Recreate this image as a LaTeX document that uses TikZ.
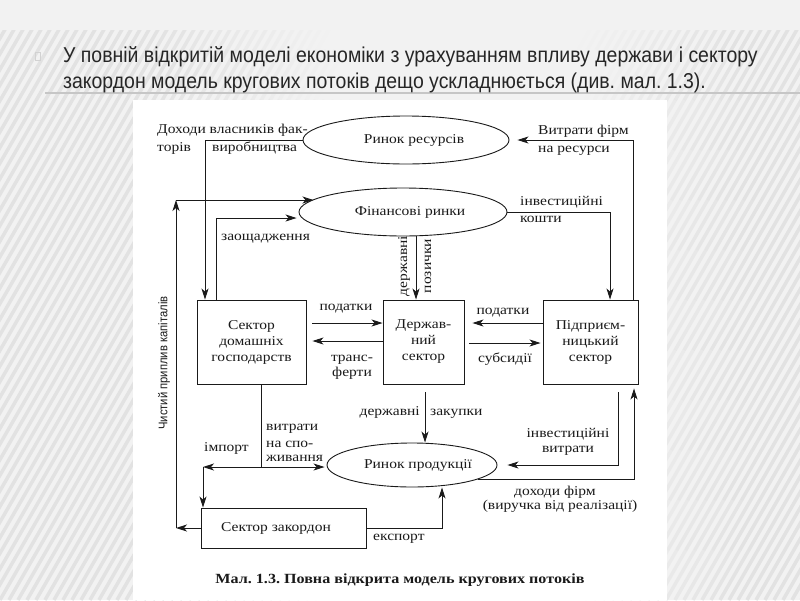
\documentclass[tikz,border=0pt]{standalone}
\usepackage{fontspec}
\setmainfont[FakeStretch=1.15]{Liberation Serif}
\newfontfamily\hdrfont[FakeStretch=0.905]{Liberation Sans}
\newfontfamily\vfont[FakeStretch=0.9]{Liberation Sans}
\usetikzlibrary{arrows.meta,shapes.geometric}
\definecolor{bgc}{HTML}{F2F2F2}
\definecolor{stripec}{HTML}{DADADA}
\definecolor{hdrtxt}{HTML}{262626}
\definecolor{ink}{HTML}{1A1A1A}
\frenchspacing
\begin{document}
\begin{tikzpicture}[x=1pt,y=-1pt,
  lbl/.style={font=\fontsize{13.5}{16}\selectfont, inner sep=0pt, text=ink},
  sbox/.style={draw=ink, line width=0.9pt, rectangle, inner sep=0pt, align=center,
               font=\fontsize{13.5}{16}\selectfont, text=ink},
  oval/.style={draw=ink, line width=0.9pt, ellipse, inner sep=0pt},
  arr/.style={draw=ink, line width=0.9pt, -{Stealth[length=11pt,width=7pt,inset=3pt]}},
  ln/.style={draw=ink, line width=0.9pt}]
\useasboundingbox (0,0) rectangle (800,600);
% background
\fill[bgc] (0,0) rectangle (800,600);
\begin{scope}
  \clip (0,30) rectangle (800,600);
  \foreach \i in {-40,...,90} {
    \foreach \k in {0,...,11} {
      \pgfmathsetmacro{\ya}{600-50*\k}
      \pgfmathsetmacro{\yb}{550-50*\k}
      \pgfmathsetmacro{\xa}{\i*9+(600-\ya)*0.57667}
      \pgfmathsetmacro{\xb}{\i*9+(600-\yb)*0.57667}
      \pgfmathsetmacro{\xm}{(\xa+\xb)/2}
      \pgfmathsetmacro{\op}{max(0,min(0.65,max((340-\xm)/280,(\xm-590)/240)))}
      \ifdim\op pt>0.01pt
        \draw[stripec, line width=3.5pt, opacity=\op] (\xa,\ya) -- (\xb,\yb);
      \fi
    }
  }
\end{scope}
\draw[gray!45, line width=1.5pt] (45,93) -- (800,93);
\draw[gray!35, line width=0.6pt] (35.5,52) rectangle (40,60);
% header text
\node[anchor=base west, inner sep=0pt, text=hdrtxt, font=\hdrfont\fontsize{21.5}{26}\selectfont] (h1) at (63,62)
  {У повній відкритій моделі економіки з урахуванням впливу держави і сектору};
\node[anchor=base west, inner sep=0pt, text=hdrtxt, font=\hdrfont\fontsize{21.5}{26}\selectfont] (h2) at (63,88)
  {закордон модель кругових потоків дещо ускладнюється (див. мал. 1.3).};
% white picture
\fill[white] (133,100) rectangle (667,600);

% nodes
\node[oval, minimum width=206pt, minimum height=48pt] (res) at (406,140) {};
\node[lbl] (rest) at (414,140) {Ринок ресурсів};
\node[oval, minimum width=208pt, minimum height=48pt] (fin) at (403,212) {};
\node[lbl] (fint) at (410,212) {Фінансові ринки};
\node[oval, minimum width=170pt, minimum height=44pt] (prod) at (412,465) {};
\node[lbl] (prodt) at (418,465) {Ринок продукції};
\node[sbox, minimum width=109pt, minimum height=84pt] (hh) at (251.5,342) {Сектор\\домашніх\\господарств};
\node[sbox, minimum width=81pt, minimum height=84pt] (gov) at (423.5,342) {Держав-\\ний\\сектор};
\node[sbox, minimum width=95pt, minimum height=84pt] (firm) at (590.5,342) {Підприєм-\\ницький\\сектор};
\node[sbox, minimum width=165pt, minimum height=40pt] (zak) at (283.5,528) {\hspace*{-15pt}Сектор закордон};

% coordinates
\coordinate (c1) at (205,140);
\coordinate (c2) at (633,140);
\coordinate (c3) at (610,212);
\coordinate (c4) at (176,528);
\coordinate (c5) at (176,200);
\coordinate (c6) at (216,218);
\coordinate (c7) at (416,236);
\coordinate (c8) at (425,392);
\coordinate (c9) at (261,467);
\coordinate (c10) at (203,467);
\coordinate (c12) at (618,465);
\coordinate (c13) at (634,479);
\coordinate (c14) at (442,528);

% connectors
\draw[arr] (res.west) -- (c1) -- (c1 |- hh.north);
\draw[arr, shorten >=8pt] (firm.north -| c2) -- (c2) -- (res.east);
\draw[arr] (fin.east) -- (c3) -- (c3 |- firm.north);
\draw[arr] (zak.west) -- (c4);
\draw[arr] (c4) -- (c5);
\draw[arr] (c5) -- (fin.172 |- c5);
\draw[arr, shorten >=2pt] (hh.north -| c6) -- (c6) -- (fin.west |- c6);
\draw[arr] (c7) -- (c7 |- gov.north);
\draw[arr, shorten <=6pt] ([yshift=19pt]hh.east) -- ([yshift=19pt]hh.east -| gov.west);
\draw[arr, shorten >=6pt] ([yshift=1pt]gov.west) -- ([yshift=1pt]gov.west -| hh.east);
\draw[arr, shorten >=8pt] ([yshift=19pt]firm.west) -- ([yshift=19pt]firm.west -| gov.east);
\draw[arr, shorten <=5pt, shorten >=2pt] ([yshift=-1pt]gov.east) -- ([yshift=-1pt]gov.east -| firm.west);
\draw[arr] (c8) -- (c8 |- prod.north);
\draw[arr, shorten >=2pt] (hh.south -| c9) -- (c9) -- (prod.west |- c9);
\draw[arr] (c9) -- (c10);
\draw[arr] (c10) -- (c10 |- zak.north);
\draw[arr, shorten <=8pt, shorten >=10pt] (firm.south -| c12) -- (c12) -- (prod.east |- c12);
\draw[arr, shorten >=4pt] (prod.-12) -- (prod.-12 -| c13) -- (c13 |- firm.south);
\draw[arr] (zak.east) -- (zak.east -| c14) -- (c14 |- prod.south);

% labels
\node[lbl, anchor=base west] (l1) at (157,133) {Доходи власників фак-};
\node[lbl, anchor=base west] (l2) at (157,151) {торів};
\node[lbl, anchor=base west] (l3) at (212,151) {виробництва};
\node[lbl, anchor=base west] (l4) at (538,134) {Витрати фірм};
\node[lbl, anchor=base west] (l5) at (538,152) {на ресурси};
\node[lbl, anchor=base west] (l6) at (520,205) {інвестиційні};
\node[lbl, anchor=base west] (l7) at (520,222) {кошти};
\node[lbl, anchor=base west] (l8) at (221,240) {заощадження};
\node[lbl, rotate=90] (l9) at (404,266) {державні};
\node[lbl, rotate=90] (l10) at (428,266) {позички};
\node[lbl, anchor=base] (l11) at (346,310) {податки};
\node[lbl, anchor=base] (l12) at (352,361) {транс-};
\node[lbl, anchor=base] (l13) at (352,376) {ферти};
\node[lbl, anchor=base] (l14) at (503,314) {податки};
\node[lbl, anchor=base] (l15) at (505,362) {субсидії};
\node[lbl, anchor=base east] (l16) at (420,415) {державні};
\node[lbl, anchor=base west] (l17) at (430,415) {закупки};
\node[lbl, anchor=base west] (l18) at (266,430) {витрати};
\node[lbl, anchor=base west] (l19) at (266,447) {на спо-};
\node[lbl, anchor=base west] (l20) at (266,461) {живання};
\node[lbl, anchor=base west] (l21) at (204,451) {імпорт};
\node[lbl, anchor=base] (l22) at (568,437) {інвестиційні};
\node[lbl, anchor=base] (l23) at (568,452) {витрати};
\node[lbl, anchor=base] (l24) at (555,495) {доходи фірм};
\node[lbl, anchor=base] (l25) at (560,509) {(виручка від реалізації)};
\node[lbl, anchor=base west] (l26) at (373,540) {експорт};
\node[inner sep=0pt, rotate=90, text=ink, font=\vfont\fontsize{12.5}{14}\selectfont] (l27) at (164,363) {Чистий приплив капіталів};
\node[inner sep=0pt, anchor=base, text=ink, font=\bfseries\fontsize{14}{16}\selectfont] (cap) at (400,583)
  {Мал. 1.3. Повна відкрита модель кругових потоків};
\end{tikzpicture}
\end{document}
